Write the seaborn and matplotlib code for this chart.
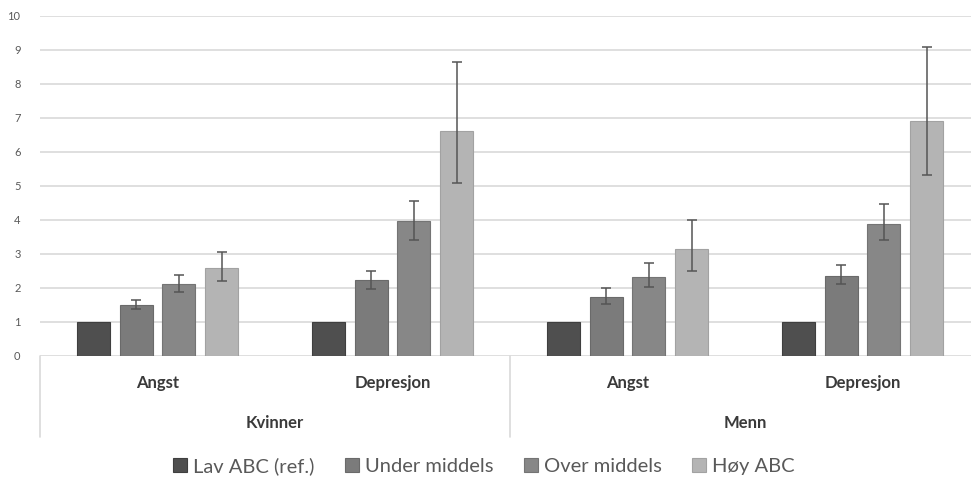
import matplotlib
matplotlib.use("Agg")
import matplotlib.pyplot as plt
import matplotlib.transforms as mtransforms
from matplotlib.patches import Patch
import seaborn as sns
import pandas as pd

# ---- data ----
genders = ["Kvinner", "Kvinner", "Menn", "Menn"]
conditions = ["Angst", "Depresjon", "Angst", "Depresjon"]
groups = ["Lav ABC (ref.)", "Under middels", "Over middels", "Høy ABC"]

# values per group, in order of the four (gender, condition) slots
lav_abc = [1.0, 1.0, 1.0, 1.0]
under_middels = [1.48, 2.22, 1.72, 2.33]
over_middels = [2.10, 3.96, 2.32, 3.87]
hoy_abc = [2.56, 6.61, 3.13, 6.91]

under_lo = [1.38, 1.96, 1.52, 2.09]
under_hi = [1.64, 2.50, 1.98, 2.66]
over_lo = [1.86, 3.41, 2.02, 3.39]
over_hi = [2.36, 4.55, 2.71, 4.47]
hoy_lo = [2.19, 5.06, 2.48, 5.30]
hoy_hi = [3.03, 8.64, 3.99, 9.07]

colors = ["#4f4f4f", "#7b7b7b", "#878787", "#b4b4b4"]
edge_colors = ["#3f3f3f", "#6a6a6a", "#747474", "#a2a2a2"]

slots = [f"{g}|{c}" for g, c in zip(genders, conditions)]
values = [lav_abc, under_middels, over_middels, hoy_abc]
lows = [None, under_lo, over_lo, hoy_lo]
highs = [None, under_hi, over_hi, hoy_hi]

rows = []
for grp, vals in zip(groups, values):
    for s, v in zip(slots, vals):
        rows.append({"slot": s, "group": grp, "value": v})
df = pd.DataFrame(rows)

# ---- figure ----
sns.set_theme(style="white")
plt.rcParams["font.family"] = ["Lato", "DejaVu Sans"]

fig = plt.figure(figsize=(9.71, 4.8), dpi=100)
ax = fig.add_axes([40 / 971, (480 - 355.5) / 480, 940 / 971, 340 / 480])

sns.barplot(data=df, x="slot", y="value", hue="group", order=slots,
            hue_order=groups, palette=colors, width=0.73, gap=0.23,
            errorbar=None, ax=ax, legend=False, saturation=1)

for cont, ec, lo, hi in zip(ax.containers, edge_colors, lows, highs):
    for bar in cont:
        bar.set_edgecolor(ec)
        bar.set_linewidth(0.8)
    if lo is None:
        continue
    xs = [b.get_x() + b.get_width() / 2 for b in cont]
    ys = [b.get_height() for b in cont]
    yerr = [[y - l for y, l in zip(ys, lo)], [h - y for y, h in zip(ys, hi)]]
    ax.errorbar(xs, ys, yerr=yerr, fmt="none", ecolor="#555555",
                elinewidth=1.1, capsize=3.5, capthick=1.1, zorder=5)

ax.set_xlim(-0.5, 3.5)
ax.set_ylim(0, 10)
ax.set_yticks(range(0, 11))
ax.set_yticklabels([str(i) for i in range(0, 11)], fontsize=8, color="#595959")
ax.tick_params(axis="y", length=0, pad=14)
ax.set_xticks([])
ax.set_xlabel("")
ax.set_ylabel("")
ax.grid(axis="y", color="#d9d9d9", linewidth=1.2)
ax.set_axisbelow(True)
for sp in ax.spines.values():
    sp.set_visible(False)

trans = mtransforms.blended_transform_factory(ax.transData, ax.transAxes)
for i, c in enumerate(conditions):
    ax.text(i, -0.081, c, transform=trans, ha="center", va="center",
            fontsize=12, fontweight="bold", color="#3a3a3a")
for i, g in enumerate(["Kvinner", "Menn"]):
    ax.text(2 * i + 0.5, -0.199, g, transform=trans, ha="center", va="center",
            fontsize=12, fontweight="bold", color="#3a3a3a")
for xv in [-0.5, 1.5, 3.5]:
    ax.plot([xv, xv], [0, -0.24], transform=trans, color="#d9d9d9",
            linewidth=1.2, clip_on=False)

handles = [Patch(facecolor=c, edgecolor=e, linewidth=0.8) for c, e in zip(colors, edge_colors)]
fig.legend(handles, groups, loc="center", bbox_to_anchor=(484 / 971, 1 - 466 / 480),
           ncol=4, frameon=False, fontsize=14.5, labelcolor="#595959",
           handlelength=0.7, handleheight=0.7, handletextpad=0.3, columnspacing=1.5)

fig.savefig("out.png", dpi=100)
